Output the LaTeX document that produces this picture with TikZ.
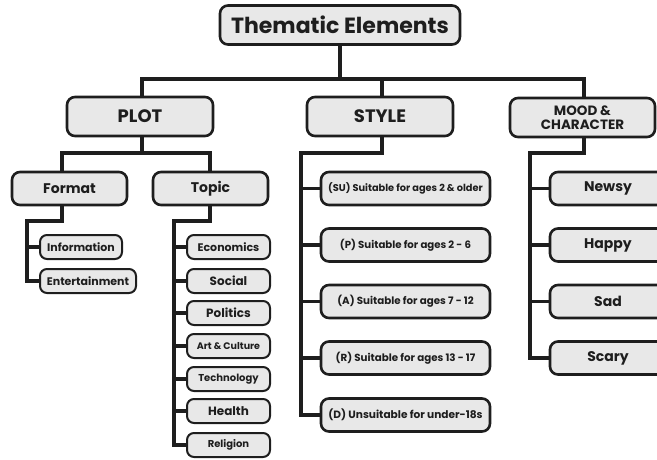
\documentclass[tikz,border=0pt]{standalone}
\usepackage{fontspec}
\setmainfont{Poppins}
\usetikzlibrary{backgrounds}
\definecolor{linec}{HTML}{1E1E1E}
\definecolor{boxc}{HTML}{E8E8E8}
\newcommand{\fs}[1]{\fontsize{#1}{#1}\selectfont\bfseries}
\begin{document}
\begin{tikzpicture}[x=1pt,y=-1pt,
  box/.style={draw=linec, fill=boxc, line width=2.6pt, rounded corners=8pt, align=center, inner sep=0pt, text=linec},
  conn/.style={draw=linec, line width=3.6pt, line join=miter}]
\useasboundingbox (0,0) rectangle (657,459);
\clip (0,0) rectangle (657,459);
% coordinates
\coordinate (bus) at (0,79);
\coordinate (pb) at (0,153);
\coordinate (fb) at (0,221);
\coordinate (px) at (142,0);
\coordinate (sx) at (382,0);
\coordinate (mx) at (584,0);
\coordinate (fx) at (62,0);
\coordinate (tx) at (210,0);
\coordinate (fvx) at (27,0);
\coordinate (tvx) at (174,0);
\coordinate (svx) at (301,0);
\coordinate (mvx) at (530,0);
% level 0/1
\node[box, minimum width=240pt, minimum height=39pt, font=\fs{22}] (title) at (340,25) {Thematic Elements};
\node[box, minimum width=146pt, minimum height=39pt, font=\fs{18}] (plot) at (140,116.5) {PLOT};
\node[box, minimum width=146pt, minimum height=39pt, font=\fs{18}] (style) at (380,116.5) {STYLE};
\node[box, minimum width=145pt, minimum height=39pt, font=\fs{13.5}, align=center] (mood) at (582.5,117.5) {MOOD \&\\[1pt]CHARACTER};
% plot children
\node[box, minimum width=115pt, minimum height=33pt, font=\fs{14}] (format) at (69.5,188.5) {Format};
\node[box, minimum width=115pt, minimum height=33pt, font=\fs{14}] (topic) at (210.5,188.5) {Topic};
\node[box, rounded corners=7pt, line width=2pt, minimum width=82pt, minimum height=24pt, font=\fs{11}] (info) at (81,247) {Information};
\node[box, rounded corners=7pt, line width=2pt, minimum width=96pt, minimum height=24pt, font=\fs{11}] (ent) at (88,281) {Entertainment};
\tikzset{tbox/.style={box, rounded corners=7pt, line width=2pt, minimum width=83pt, minimum height=24pt}}
\node[tbox, font=\fs{11}] (t1) at (228.5,247) {Economics};
\node[tbox, font=\fs{12}] (t2) at (228.5,281) {Social};
\node[tbox, font=\fs{12}] (t3) at (228.5,313) {Politics};
\node[tbox, font=\fs{9.5}] (t4) at (228.5,346) {Art \& Culture};
\node[tbox, font=\fs{10}] (t5) at (228.5,379) {Technology};
\node[tbox, font=\fs{12}] (t6) at (228.5,411) {Health};
\node[tbox, font=\fs{10}] (t7) at (228.5,445) {Religion};
% style children
\tikzset{sbox/.style={box, minimum width=169pt, minimum height=33pt}}
\node[sbox, font=\fs{9.8}] (s1) at (405.5,188.5) {(SU) Suitable for ages 2 \& older};
\node[sbox, font=\fs{10.2}] (s2) at (405.5,245) {(P) Suitable for ages 2 - 6};
\node[sbox, font=\fs{10.3}] (s3) at (405.5,301.5) {(A) Suitable for ages 7 - 12};
\node[sbox, font=\fs{10.3}] (s4) at (405.5,358) {(R) Suitable for ages 13 - 17};
\node[sbox, font=\fs{10.6}] (s5) at (405.5,415) {(D) Unsuitable for under-18s};
% mood children
\tikzset{mbox/.style={box, minimum width=116pt, minimum height=33pt, font=\fs{14}}}
\node[mbox] (m1) at (608,188.5) {Newsy};
\node[mbox] (m2) at (608,245) {Happy};
\node[mbox] (m3) at (608,301.5) {Sad};
\node[mbox] (m4) at (608,358) {Scary};
% connectors
\begin{pgfonlayer}{background}
\draw[conn] (title.south) -- (title.south |- bus);
\draw[conn] (px |- plot.north) -- (px |- bus) -- (mx |- bus) -- (mx |- mood.north);
\draw[conn] (sx |- bus) -- (sx |- style.north);
\draw[conn] (px |- plot.south) -- (px |- pb);
\draw[conn] (fx |- format.north) -- (fx |- pb) -- (tx |- pb) -- (tx |- topic.north);
\draw[conn] (fx |- format.south) -- (fx |- fb) -- (fvx |- fb) -- (fvx |- ent) -- (ent.west);
\draw[conn] (fvx |- info) -- (info.west);
\draw[conn] (tx |- topic.south) -- (tx |- fb) -- (tvx |- fb) -- (tvx |- t7) -- (t7.west);
\foreach \n in {t1,t2,t3,t4,t5,t6} \draw[conn] (tvx |- \n) -- (\n.west);
\draw[conn] (sx |- style.south) -- (sx |- pb) -- (svx |- pb) -- (svx |- s5) -- (s5.west);
\foreach \n in {s1,s2,s3,s4} \draw[conn] (svx |- \n) -- (\n.west);
\draw[conn] (mx |- mood.south) -- (mx |- pb) -- (mvx |- pb) -- (mvx |- m4) -- (m4.west);
\foreach \n in {m1,m2,m3} \draw[conn] (mvx |- \n) -- (\n.west);
\end{pgfonlayer}
\end{tikzpicture}
\end{document}
